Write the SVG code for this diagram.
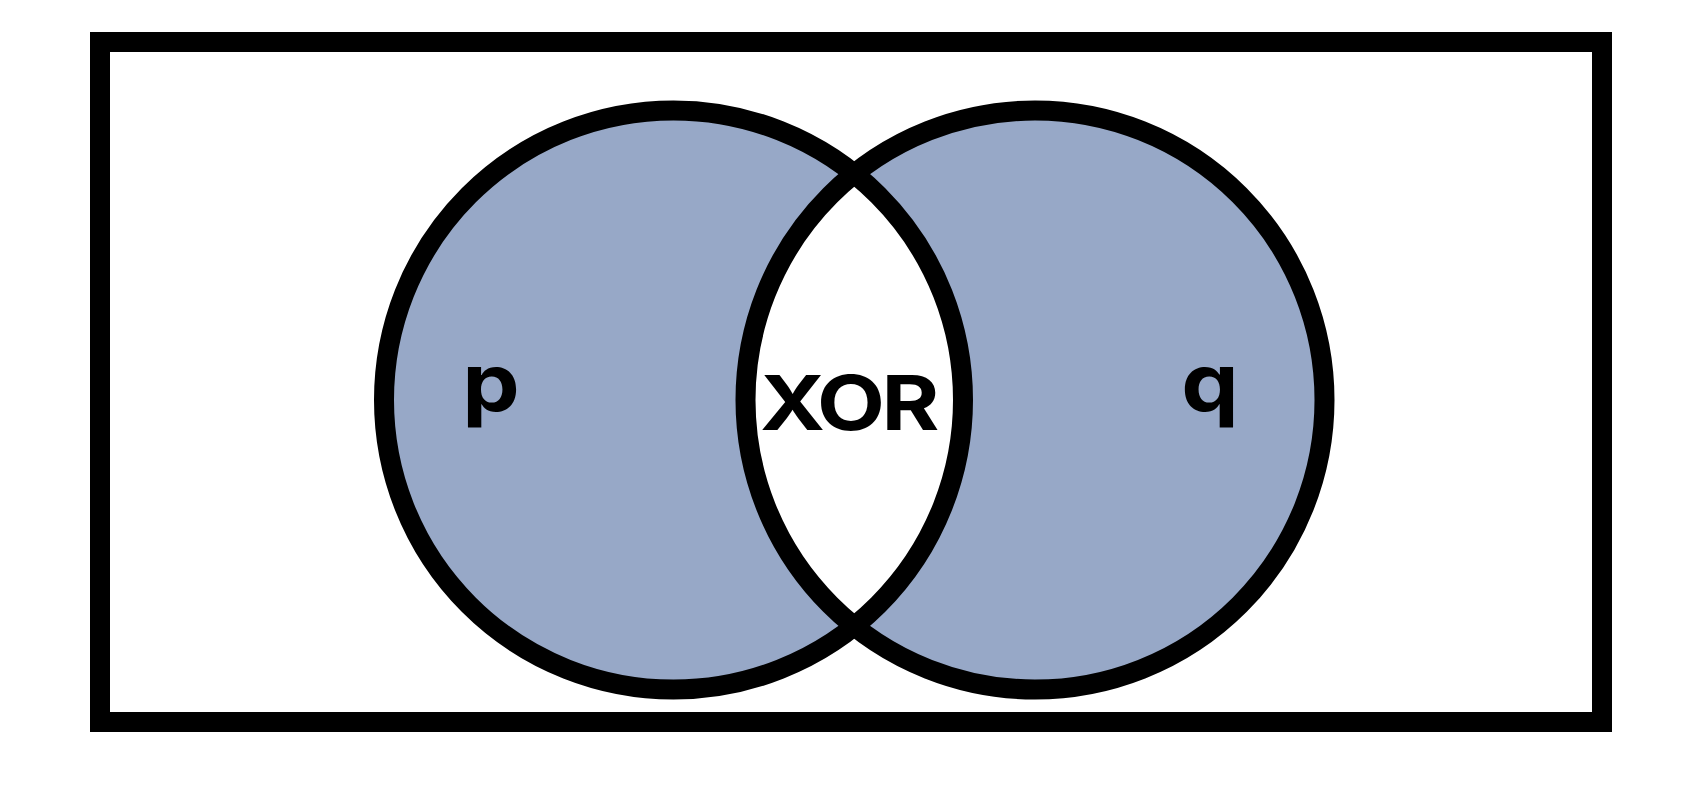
<svg xmlns="http://www.w3.org/2000/svg" width="1700" height="800" viewBox="0 0 1700 800">
<style>
.ring{fill:none;stroke:#000;stroke-width:20}
.fill{fill:#97a8c7}
.lbl{font-family:Inter,"Liberation Sans",sans-serif;font-weight:700;fill:#000}
</style>
<defs>
<clipPath id="clipP"><circle cx="673.5" cy="400" r="289.5"/></clipPath>
</defs>
<rect width="1700" height="800" fill="#fff"/>
<g id="frame"><rect x="100" y="42" width="1502" height="680" fill="#fff" stroke="#000" stroke-width="20"/></g>
<g id="set-p"><circle class="fill" cx="673.5" cy="400" r="289.5"/></g>
<g id="set-q"><circle class="fill" cx="1035" cy="400" r="289.5"/></g>
<g id="intersection"><circle cx="1035" cy="400" r="289.5" fill="#fff" clip-path="url(#clipP)"/></g>
<g id="outlines">
<circle class="ring" cx="673.5" cy="400" r="289.5"/>
<circle class="ring" cx="1035" cy="400" r="289.5"/>
</g>
<g id="labels">
<text class="lbl" transform="translate(491 411) scale(1.14 1)" font-size="80" text-anchor="middle">p</text>
<text class="lbl" transform="translate(1210 411) scale(1.14 1)" font-size="80" text-anchor="middle">q</text>
<text class="lbl" transform="translate(848 430) scale(1.16 1)" font-size="76" text-anchor="middle" letter-spacing="-3">XOR</text>
</g>
</svg>
